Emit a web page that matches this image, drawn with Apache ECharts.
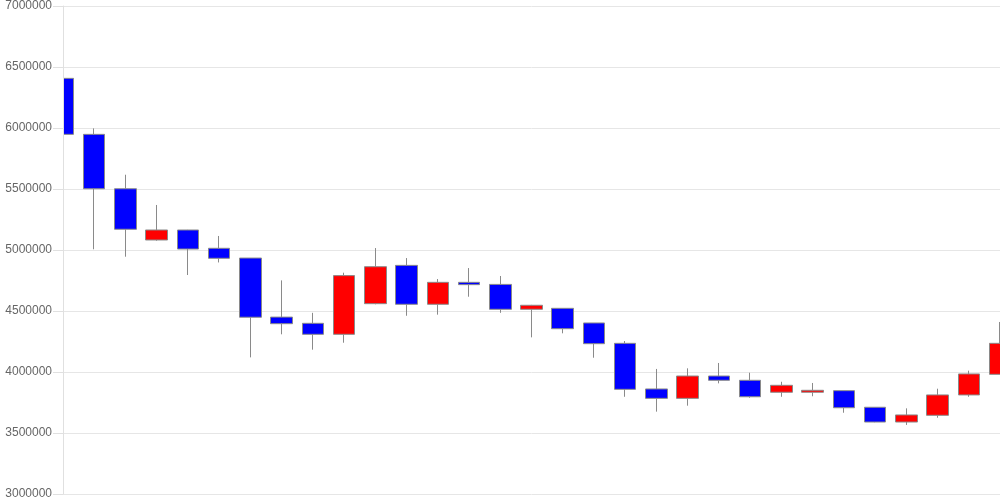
<!DOCTYPE html>
<html>
<head>
<meta charset="utf-8">
<script src="https://cdn.jsdelivr.net/npm/echarts@6/dist/echarts.min.js"></script>
<style>html,body{margin:0;padding:0;background:#fff}#c{width:1000px;height:500px}</style>
</head>
<body>
<div id="c"></div>
<script>
const categories = ['1','2','3','4','5','6','7','8','9','10','11','12','13','14','15','16','17','18','19','20','21','22','23','24','25','26','27','28','29','30','31'];
// candle values: open, close, low, high
const opens  = [6407000,5948000,5502000,5082000,5164000,5014000,4934000,4450000,4399000,4309000,4560000,4874000,4555000,4735000,4718000,4514000,4522000,4402000,4235000,3861000,3784000,3967000,3932000,3834000,3834000,3847000,3711000,3590000,3645000,3812000,3981000];
const closes = [5948000,5502000,5170000,5164000,5008000,4932000,4449000,4396000,4309000,4790000,4863000,4555000,4735000,4716000,4514000,4547000,4355000,4232000,3858000,3784000,3967000,3932000,3797000,3891000,3850000,3707000,3590000,3648000,3812000,3984000,4235000];
const lows   = [5888000,5006000,4945000,5076000,4795000,4898000,4120000,4309000,4183000,4240000,4555000,4461000,4470000,4617000,4485000,4284000,4317000,4117000,3797000,3675000,3724000,3907000,3789000,3797000,3801000,3666000,3588000,3566000,3625000,3797000,3981000];
const highs  = [6484000,5997000,5617000,5369000,5165000,5115000,4934000,4751000,4485000,4814000,5016000,4934000,4762000,4852000,4787000,4550000,4522000,4402000,4254000,4025000,4030000,4074000,3994000,3920000,3910000,3847000,3711000,3702000,3863000,4011000,4410000];
const yTicks = { min: 3000000, max: 7000000, interval: 500000 };

const data = opens.map((o, i) => [o, closes[i], lows[i], highs[i]]);

const axisBase = {
  type: 'value',
  min: yTicks.min,
  max: yTicks.max,
  interval: yTicks.interval
};

const chart = echarts.init(document.getElementById('c'), null, { renderer: 'canvas' });
chart.setOption({
  animation: false,
  backgroundColor: '#fff',
  grid: { left: 63, right: 0, top: 6, bottom: 6, containLabel: false, outerBoundsMode: 'none' },
  xAxis: {
    type: 'category',
    data: categories,
    boundaryGap: false,
    axisLine: { show: false },
    axisTick: { show: false },
    axisLabel: { show: false },
    splitLine: { show: false }
  },
  yAxis: [
    Object.assign({}, axisBase, {
      z: 0,
      axisLine: { show: false },
      axisTick: { show: false },
      axisLabel: { show: false },
      splitLine: { show: true, lineStyle: { color: '#e6e6e6' } }
    }),
    Object.assign({}, axisBase, {
      position: 'left',
      z: 5,
      axisLine: { show: true, onZero: false, lineStyle: { color: '#e0e0e0' } },
      axisTick: { show: true, length: 10, lineStyle: { color: '#e0e0e0' } },
      axisLabel: {
        color: '#666', fontSize: 12, margin: 11,
        fontFamily: 'Liberation Sans, Arial, sans-serif',
        formatter: v => String(v)
      },
      splitLine: { show: false }
    })
  ],
  graphic: [{
    type: 'rect',
    z: 4,
    shape: { x: 0, y: 0, width: 63, height: 500 },
    style: { fill: '#fff' },
    silent: true
  }],
  series: [{
    type: 'candlestick',
    data: data,
    barWidth: 22,
    yAxisIndex: 0,
    itemStyle: {
      color: '#ff0000',
      color0: '#0000ff',
      borderColor: '#8a8a8a',
      borderColor0: '#8a8a8a',
      borderWidth: 1
    }
  }]
});
</script>
</body>
</html>
